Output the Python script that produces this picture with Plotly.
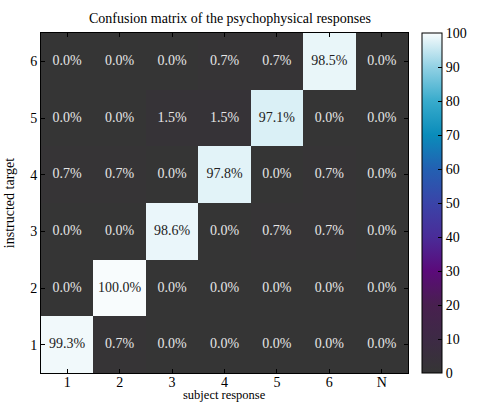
import plotly.graph_objects as go

cols = ["1", "2", "3", "4", "5", "6", "N"]
rows = ["1", "2", "3", "4", "5", "6"]
row1 = [99.3, 0.7, 0.0, 0.0, 0.0, 0.0, 0.0]
row2 = [0.0, 100.0, 0.0, 0.0, 0.0, 0.0, 0.0]
row3 = [0.0, 0.0, 98.6, 0.0, 0.7, 0.7, 0.0]
row4 = [0.7, 0.7, 0.0, 97.8, 0.0, 0.7, 0.0]
row5 = [0.0, 0.0, 1.5, 1.5, 97.1, 0.0, 0.0]
row6 = [0.0, 0.0, 0.0, 0.7, 0.7, 98.5, 0.0]
z = [row1, row2, row3, row4, row5, row6]

xs = list(range(1, len(cols) + 1))
ys = list(range(1, len(rows) + 1))

cscale = [
    [0.0, "#353535"], [0.1, "#3d2a45"], [0.2, "#48204f"], [0.3, "#5b0a7a"],
    [0.4, "#4a2c98"], [0.5, "#3a44a8"], [0.6, "#2360b2"], [0.7, "#0a8cba"],
    [0.8, "#38abcc"], [0.9, "#92d1e4"], [1.0, "#f8fcfd"],
]

FONT = "Liberation Serif"
FS = 14

fig = go.Figure()
fig.add_trace(go.Heatmap(
    x=xs, y=ys, z=z, zmin=0, zmax=100, colorscale=cscale,
    xgap=0, ygap=0, hoverinfo="skip",
    colorbar=dict(
        x=1.037, xanchor="left", y=0.5, yanchor="middle", len=1.0, lenmode="fraction",
        thickness=20, thicknessmode="pixels", outlinewidth=1, outlinecolor="black",
        tickvals=[0, 10, 20, 30, 40, 50, 60, 70, 80, 90, 100],
        ticks="inside", ticklen=4, tickcolor="black",
        tickfont=dict(family=FONT, size=FS, color="black"),
        xpad=0, ypad=0,
    ),
))

tx, ty, tt, tc = [], [], [], []
for i, r in enumerate(z):
    for j, v in enumerate(r):
        tx.append(xs[j]); ty.append(ys[i]); tt.append(f"{v:.1f}%")
        tc.append("#222222" if v > 50 else "#e6e6e6")
fig.add_trace(go.Scatter(x=tx, y=ty, text=tt, mode="text",
                         textfont=dict(family=FONT, size=FS, color=tc),
                         hoverinfo="skip", showlegend=False))

axis_common = dict(showline=True, linecolor="black", linewidth=1, mirror="ticks",
                   ticks="inside", ticklen=4, tickcolor="black", showgrid=False, zeroline=False,
                   automargin=False,
                   tickfont=dict(family=FONT, size=FS, color="black"))
fig.update_xaxes(range=[0.5, 7.5], tickvals=xs, ticktext=cols, ticklabelstandoff=-4,
                 **axis_common)
fig.update_yaxes(range=[0.5, 6.5], tickvals=ys, ticktext=rows,
                 title=dict(text="instructed target", standoff=12,
                            font=dict(family=FONT, size=FS, color="black")),
                 **axis_common)

fig.add_annotation(text="subject response", xref="paper", yref="paper",
                   x=0.5, y=-30 / 340, xanchor="center", yanchor="bottom",
                   showarrow=False, borderpad=0,
                   font=dict(family=FONT, size=12.5, color="black"))

fig.update_layout(
    width=483, height=403,
    margin=dict(l=41, r=62, t=33, b=30),
    paper_bgcolor="white", plot_bgcolor="white",
    title=dict(text="Confusion matrix of the psychophysical responses",
               x=0.476, xanchor="center", y=0.955, yanchor="middle",
               font=dict(family=FONT, size=FS, color="black")),
    showlegend=False,
)
fig.write_html("out.html", config={"displayModeBar": False},
               post_script="document.body.style.margin='0';")
